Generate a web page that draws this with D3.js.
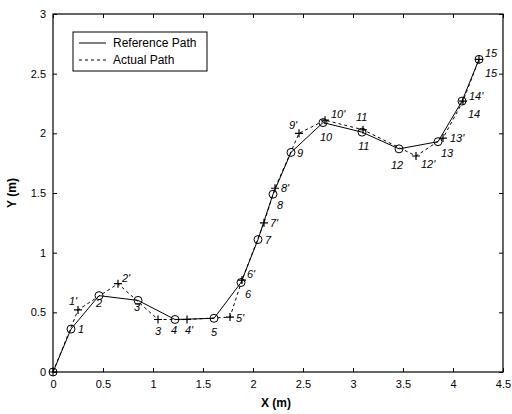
<!DOCTYPE html>
<html>
<head>
<meta charset="utf-8">
<script src="https://cdn.jsdelivr.net/npm/d3@7"></script>
<style>
  body { margin: 0; background: #fff; }
  text { font-family: "Liberation Sans", Arial, sans-serif; fill: #000; }
</style>
</head>
<body>
<svg id="chart" width="512" height="414"></svg>
<script>
(function() {

    // reference path (circles)
    var refX = [0, 0.18, 0.46, 0.85, 1.22, 1.61, 1.88, 2.05, 2.20, 2.38, 2.70, 3.09, 3.46, 3.85, 4.09, 4.26];
    var refY = [0, 0.36, 0.64, 0.60, 0.44, 0.45, 0.75, 1.11, 1.49, 1.84, 2.09, 2.01, 1.87, 1.93, 2.27, 2.62];
    var refLabels = ["", "1", "2", "3", "4", "5", "6", "7", "8", "9", "10", "11", "12", "13", "14", "15"];

    // actual path (plus markers)
    var actX = [0, 0.25, 0.65, 1.05, 1.34, 1.77, 1.89, 2.11, 2.22, 2.46, 2.72, 3.10, 3.63, 3.90, 4.10, 4.26];
    var actY = [0, 0.52, 0.74, 0.44, 0.44, 0.46, 0.77, 1.25, 1.54, 2.00, 2.11, 2.03, 1.81, 1.96, 2.27, 2.62];
    var actLabels = ["", "1'", "2'", "3", "4'", "5'", "6'", "7'", "8'", "9'", "10'", "11", "12'", "13'", "14'", "15"];

    var xTicks = [0, 0.5, 1, 1.5, 2, 2.5, 3, 3.5, 4, 4.5];
    var yTicks = [0, 0.5, 1, 1.5, 2, 2.5, 3];
    var legendNames = ["Reference Path", "Actual Path"];

    // label offsets (px) relative to each marker
    var refOff = [[0,0],[7,4],[-3,11],[-4,11],[-4,15],[-3,18],[4,15],[7,4],[4,15],[6,5],[-3,18],[-4,18],[-8,20],[3,15],[6,17],[6,-2]];
    var actOff = [[0,0],[-9,-5],[4,-2],[-3,16],[-2,15],[6,5],[5,-2],[6,4],[6,4],[-10,-4],[6,-2],[-7,-9],[5,12],[7,4],[6,-1],[6,18]];

    var svg = d3.select("#chart"),
        left = 53, right = 503, top = 14, bottom = 372;

    var x = d3.scaleLinear().domain([0, 4.5]).range([left, right]);
    var y = d3.scaleLinear().domain([0, 3]).range([bottom, top]);

    var fmt = function(d) { return d3.format("")(d); };

    // axes, matlab style: ticks inward on all sides
    svg.append("g").attr("transform", "translate(0," + bottom + ")")
        .call(d3.axisBottom(x).tickValues(xTicks).tickFormat(fmt).tickSizeInner(-4).tickSizeOuter(0).tickPadding(8))
        .call(function(g) { g.select(".domain").remove(); })
        .selectAll("text").attr("font-size", 11);
    svg.append("g").attr("transform", "translate(0," + top + ")")
        .call(d3.axisTop(x).tickValues(xTicks).tickFormat("").tickSizeInner(-4).tickSizeOuter(0))
        .call(function(g) { g.select(".domain").remove(); });
    svg.append("g").attr("transform", "translate(" + left + ",0)")
        .call(d3.axisLeft(y).tickValues(yTicks).tickFormat(fmt).tickSizeInner(-4).tickSizeOuter(0).tickPadding(7))
        .call(function(g) { g.select(".domain").remove(); })
        .selectAll("text").attr("font-size", 11);
    svg.append("g").attr("transform", "translate(" + right + ",0)")
        .call(d3.axisRight(y).tickValues(yTicks).tickFormat("").tickSizeInner(-4).tickSizeOuter(0))
        .call(function(g) { g.select(".domain").remove(); });

    svg.append("rect")
        .attr("x", left).attr("y", top)
        .attr("width", right - left).attr("height", bottom - top)
        .attr("fill", "none").attr("stroke", "#000").attr("stroke-width", 1.2);

    var refPts = refX.map(function(d, i) { return [d, refY[i]]; });
    var actPts = actX.map(function(d, i) { return [d, actY[i]]; });

    var line = d3.line()
        .x(function(d) { return x(d[0]); })
        .y(function(d) { return y(d[1]); });

    svg.append("path").datum(actPts)
        .attr("d", line).attr("fill", "none")
        .attr("stroke", "#000").attr("stroke-width", 1)
        .attr("stroke-dasharray", "3,3");

    svg.append("path").datum(refPts)
        .attr("d", line).attr("fill", "none")
        .attr("stroke", "#000").attr("stroke-width", 1);

    svg.selectAll(".ref").data(refPts)
        .enter().append("circle")
        .attr("class", "ref")
        .attr("cx", function(d) { return x(d[0]); })
        .attr("cy", function(d) { return y(d[1]); })
        .attr("r", 4)
        .attr("fill", "none").attr("stroke", "#000").attr("stroke-width", 1);

    svg.selectAll(".act").data(actPts)
        .enter().append("path")
        .attr("class", "act")
        .attr("transform", function(d) { return "translate(" + x(d[0]) + "," + y(d[1]) + ")"; })
        .attr("d", "M-4,0H4M0,-4V4")
        .attr("stroke", "#000").attr("stroke-width", 1.2);

    svg.selectAll(".refLab").data(refPts)
        .enter().append("text")
        .attr("class", "refLab")
        .attr("x", function(d, i) { return x(d[0]) + refOff[i][0]; })
        .attr("y", function(d, i) { return y(d[1]) + refOff[i][1]; })
        .attr("font-size", 11).attr("font-style", "italic")
        .text(function(d, i) { return refLabels[i]; });

    svg.selectAll(".actLab").data(actPts)
        .enter().append("text")
        .attr("class", "actLab")
        .attr("x", function(d, i) { return x(d[0]) + actOff[i][0]; })
        .attr("y", function(d, i) { return y(d[1]) + actOff[i][1]; })
        .attr("font-size", 11).attr("font-style", "italic")
        .text(function(d, i) { return actLabels[i]; });

    // axis titles
    svg.append("text")
        .attr("x", 276).attr("y", 407)
        .attr("text-anchor", "middle").attr("font-size", 12).attr("font-weight", "bold")
        .text("X  (m)");
    svg.append("text")
        .attr("transform", "translate(16,193) rotate(-90)")
        .attr("text-anchor", "middle").attr("font-size", 12).attr("font-weight", "bold")
        .text("Y  (m)");

    // legend
    var leg = svg.append("g").attr("transform", "translate(73,32)");
    leg.append("rect").attr("width", 134).attr("height", 39)
        .attr("fill", "#fff").attr("stroke", "#000").attr("stroke-width", 1);
    legendNames.forEach(function(name, i) {
        leg.append("line")
            .attr("x1", 6).attr("x2", 33)
            .attr("y1", 11 + i * 17).attr("y2", 11 + i * 17)
            .attr("stroke", "#000").attr("stroke-width", 1)
            .attr("stroke-dasharray", i === 1 ? "3,3" : null);
        leg.append("text")
            .attr("x", 40).attr("y", 15 + i * 17)
            .attr("font-size", 12)
            .text(name);
    });

})();
</script>
</body>
</html>
